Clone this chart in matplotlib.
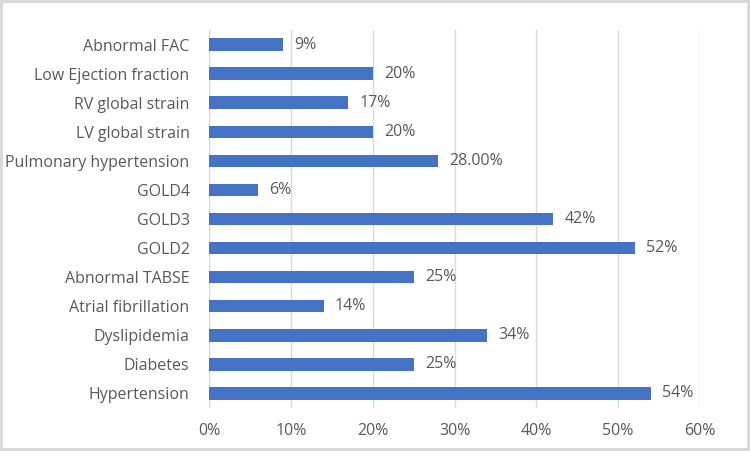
import matplotlib.pyplot as plt
from matplotlib.ticker import FuncFormatter

categories = ["Hypertension", "Diabetes", "Dyslipidemia", "Atrial fibrillation",
              "Abnormal TABSE", "GOLD2", "GOLD3", "GOLD4", "Pulmonary hypertension",
              "LV global strain", "RV global strain", "Low Ejection fraction", "Abnormal FAC"]
values = [0.54, 0.25, 0.34, 0.14, 0.25, 0.52, 0.42, 0.06, 0.28, 0.20, 0.17, 0.20, 0.09]
value_labels = ["54%", "25%", "34%", "14%", "25%", "52%", "42%", "6%", "28.00%",
                "20%", "17%", "20%", "9%"]

plt.rcParams['font.family'] = ['Open Sans', 'DejaVu Sans']
text_col = '#595959'

fig = plt.figure(figsize=(7.5, 4.51), dpi=100)
fig.patch.set_edgecolor('#d9d9d9')
fig.patch.set_linewidth(3)
ax = fig.add_axes([0.2787, 0.0953, 0.6546, 0.8382])

y = list(range(len(categories)))
ax.barh(y, values, height=0.43, color='#4472c4', zorder=3)
for yi, v, lab in zip(y, values, value_labels):
    ax.text(v + 0.014, yi, lab, va='center', ha='left', fontsize=11.5, color=text_col)

ax.set_xlim(0, 0.6)
ax.set_ylim(-0.5, len(categories) - 0.5)
ax.set_xticks([0, 0.1, 0.2, 0.3, 0.4, 0.5, 0.6])
ax.xaxis.set_major_formatter(FuncFormatter(lambda x, p: f"{x*100:.0f}%"))
ax.set_yticks(y)
ax.set_yticklabels(categories)
ax.tick_params(axis='both', length=0, labelsize=11.5, colors=text_col)
ax.tick_params(axis='x', pad=11)
ax.tick_params(axis='y', pad=14)
ax.grid(axis='x', color='#d9d9d9', linewidth=1, zorder=0)
for s in ax.spines.values():
    s.set_visible(False)
ax.axvline(0, color='#d9d9d9', linewidth=1, zorder=1)

fig.savefig('out.png', dpi=100, edgecolor=fig.get_edgecolor())
